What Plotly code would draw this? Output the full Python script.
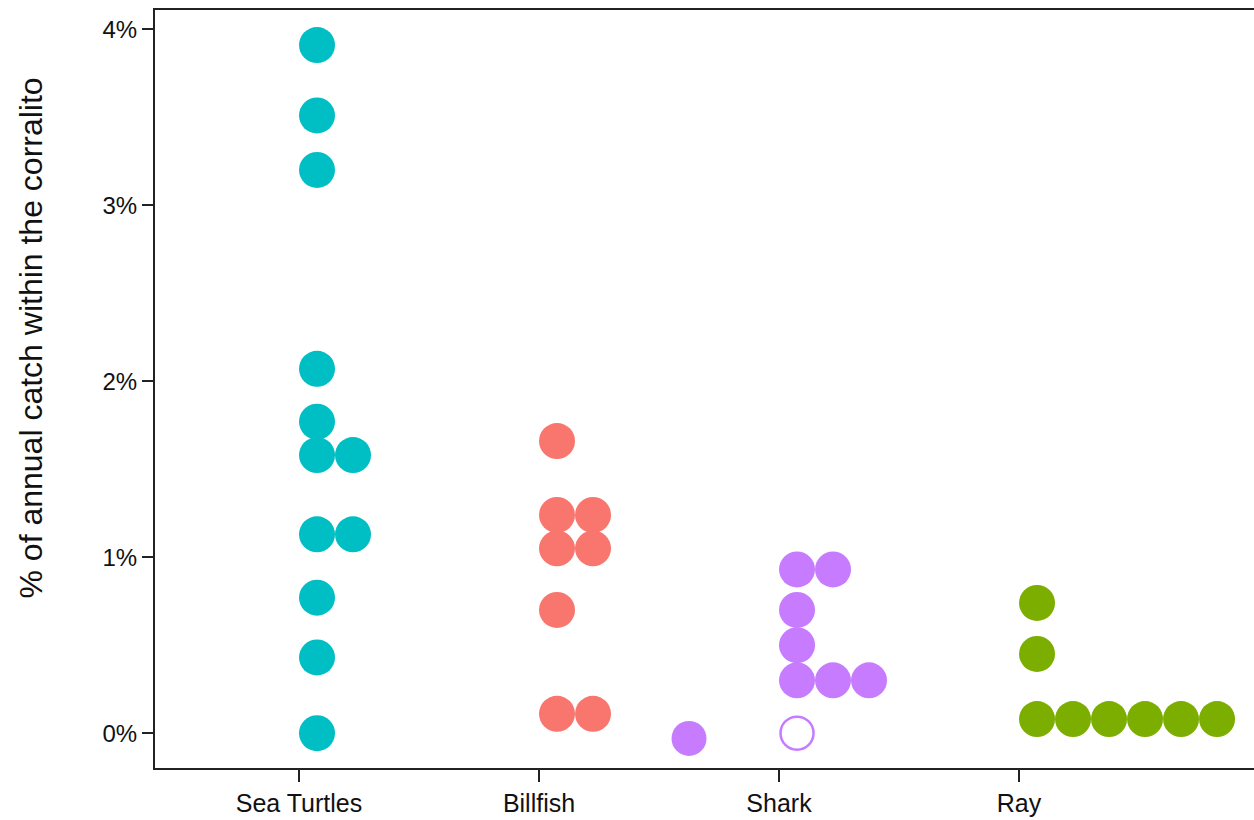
import plotly.graph_objects as go

# Share of annual catch taken inside the corralito, by species group (%)
categories = ["Sea Turtles", "Billfish", "Shark", "Ray"]
sea_turtles = [3.91, 3.51, 3.20, 2.07, 1.77, 1.58, 1.58, 1.13, 1.13, 0.77, 0.43, 0.0]
billfish = [1.66, 1.24, 1.24, 1.05, 1.05, 0.70, 0.11, 0.11]
shark = [0.93, 0.93, 0.70, 0.50, 0.30, 0.30, 0.30]
shark_open = [0.0]      # drawn as an open circle
shark_low = [-0.03]     # sits to the left of the shark column
ray = [0.74, 0.45, 0.08, 0.08, 0.08, 0.08, 0.08, 0.08]
y_ticks = [0, 1, 2, 3, 4]

colors = {"Sea Turtles": "#00BFC4", "Billfish": "#F8766D",
          "Shark": "#C77CFF", "Ray": "#7CAE00"}

FONT = "Arial, Liberation Sans, Helvetica, sans-serif"
INK = "#222222"
DOT = 36
COL0 = 0.075    # first dot column, right of the category tick
STEP = 0.15     # spacing between stacked dot columns
SHARK_LOW_SLOT = -3


def swarm_x(cat_idx, values):
    """Stack equal values side by side, left to right."""
    seen = {}
    xs = []
    for v in values:
        k = round(v, 4)
        slot = seen.get(k, 0)
        seen[k] = slot + 1
        xs.append(cat_idx + COL0 + slot * STEP)
    return xs


fig = go.Figure()
series = {"Sea Turtles": sea_turtles, "Billfish": billfish, "Shark": shark, "Ray": ray}
for i, cat in enumerate(categories):
    vals = series[cat]
    fig.add_trace(go.Scatter(
        x=swarm_x(i, vals), y=vals, mode="markers", name=cat,
        marker=dict(size=DOT, color=colors[cat], line=dict(width=0)),
        hovertemplate=cat + ": %{y:.2f}%<extra></extra>",
    ))

shark_i = categories.index("Shark")
fig.add_trace(go.Scatter(
    x=[shark_i + COL0 + SHARK_LOW_SLOT * STEP for _ in shark_low], y=shark_low,
    mode="markers", name="Shark",
    marker=dict(size=DOT - 1, color=colors["Shark"], line=dict(width=0)),
    hovertemplate="Shark: %{y:.2f}%<extra></extra>",
))
fig.add_trace(go.Scatter(
    x=swarm_x(shark_i, shark_open), y=shark_open, mode="markers", name="Shark",
    marker=dict(size=DOT - 3, color="white", line=dict(width=2.5, color=colors["Shark"])),
    hovertemplate="Shark: %{y:.2f}%<extra></extra>",
))

fig.update_layout(
    width=1254, height=820,
    margin=dict(l=155, r=0, t=10, b=52),
    paper_bgcolor="white", plot_bgcolor="white",
    showlegend=False,
    font=dict(family=FONT, color="#111111"),
    xaxis=dict(
        range=[-0.6, 3.979],
        tickvals=list(range(len(categories))), ticktext=categories,
        showgrid=False, zeroline=False,
        showline=True, mirror=True, linecolor=INK, linewidth=2,
        ticks="outside", ticklen=12, tickwidth=2, tickcolor=INK,
        tickfont=dict(size=25, family=FONT, color="#111111"),
    ),
    yaxis=dict(
        range=[-0.198, 4.109],
        tickvals=y_ticks, ticktext=[f"{t}%" for t in y_ticks],
        showgrid=False, zeroline=False,
        showline=True, linecolor=INK, linewidth=2,
        ticks="outside", ticklen=11, tickwidth=2, tickcolor=INK,
        tickfont=dict(size=24, family=FONT, color="#111111"),
    ),
    annotations=[dict(
        text="% of annual catch within the corralito",
        xref="paper", yref="paper",
        x=(30 - 155) / 1099, y=(768 - 338.5) / 758,
        xanchor="center", yanchor="middle",
        textangle=-90, showarrow=False,
        font=dict(size=32, family=FONT, color="#111111"),
    )],
)

fig.write_html("out.html")
